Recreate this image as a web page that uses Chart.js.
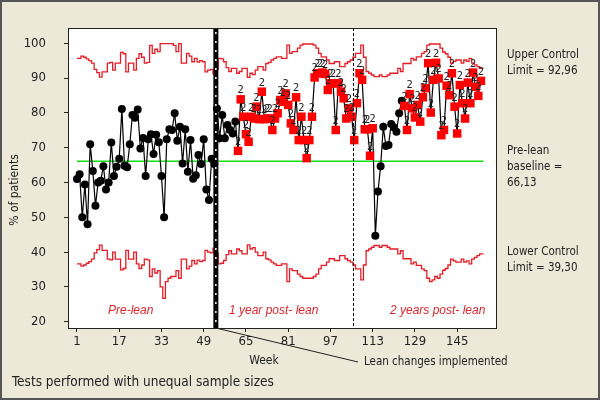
<!DOCTYPE html>
<html>
<head>
<meta charset="utf-8">
<script src="https://cdn.jsdelivr.net/npm/chart.js@4.4.0/dist/chart.umd.min.js"></script>
<style>
  html, body { margin: 0; padding: 0; background: #ece9d8; }
</style>
</head>
<body>
<canvas id="grafico-control" width="600" height="400"></canvas>
<script>
// Porcentaje de pacientes por semana (semana 1 = primer valor)
const pctPatients = [
  61, 62.4, 50, 59.4, 48, 71, 63.3, 53.3, 60, 60.5,
  64.7, 58, 60, 71.5, 61.9, 64.5, 66.8, 81.1, 64.8, 64.4,
  71, 79.4, 78.6, 81, 69.8, 72.8, 61.9, 72.4, 73.9, 68.2,
  73.7, 71.6, 61.9, 50, 72.4, 75.3, 75.1, 79.9, 72, 76,
  65.5, 75.3, 63.1, 72.2, 61.1, 62.1, 67.9, 65.3, 72.4, 58,
  55, 66.8, 65.3, 81.3, 72.7, 79.4, 72.7, 76.5, 75.1, 74.1,
  77.5, 69.1, 83.9, 78.9, 73.9, 71.7, 78.9, 78.4, 81.8, 78.2,
  86.1, 78.2, 78.4, 78.4, 75.1, 78.4, 79.9, 83.7, 83.2, 85.6,
  82.3, 77, 75.1, 84.5, 72.2, 78.9, 72.2, 67, 72.2, 78.9,
  90.2, 91.4, 91.4, 91.6, 91.2, 86.6, 88.5, 88.5, 75.1, 88.5,
  86.1, 84.2, 78.4, 81.3, 78.9, 72.2, 82.8, 91.4, 89.5, 75.3,
  75.3, 67.7, 75.6, 44.7, 57.4, 64.7, 76, 70.5, 70.8, 76.8,
  75.9, 74.6, 79.9, 83.5, 82, 75.1, 85.4, 81.3, 78.7, 82.3,
  77.5, 84.5, 87.1, 94.3, 80.1, 89.5, 94.4, 89.9, 73.6, 75.1,
  87.8, 85.1, 91.4, 81.8, 74.1, 88, 82.8, 78.4, 88.7, 82.8,
  91.6, 87.5, 84.9, 89.2
];

// Limite de control superior (paso por semana)
const upperLimit = [
  95.7, 95.7, 96.3, 96.0, 95.5, 95.0, 94.3, 92.5, 91.6, 90.3,
  91.8, 91.8, 94.3, 94.5, 92.3, 94.3, 94.3, 97.4, 97.0, 91.8,
  94.3, 94.3, 92.3, 95.7, 97.0, 96.0, 94.3, 94.5, 99.4, 97.1,
  98.3, 97.6, 99.9, 99.9, 99.9, 99.9, 99.9, 99.4, 97.6, 99.9,
  94.3, 94.3, 97.1, 96.3, 94.7, 95.7, 94.6, 95.0, 94.7, 91.8,
  92.3, 92.5, 91.2, 92.5, 95.7, 95.5, 94.7, 93.0, 91.9, 92.8,
  92.8, 91.4, 91.9, 92.8, 92.8, 90.2, 91.4, 91.0, 92.3, 93.3,
  93.3, 92.3, 94.2, 94.5, 95.2, 95.7, 96.1, 96.1, 95.7, 95.7,
  99.5, 97.1, 97.6, 97.6, 98.6, 99.5, 99.8, 99.8, 99.8, 99.8,
  99.5, 98.6, 97.1, 96.1, 96.1, 95.2, 94.2, 94.2, 94.7, 94.7,
  93.3, 93.3, 94.2, 94.7, 95.2, 96.0, 97.1, 97.1, 99.5, 96.0,
  91.9, 91.4, 90.9, 90.4, 90.4, 90.9, 90.4, 90.4, 90.9, 91.4,
  91.4, 91.4, 92.8, 91.9, 94.2, 94.2, 94.2, 95.7, 95.2, 96.1,
  96.1, 97.1, 97.6, 99.5, 99.8, 99.8, 99.8, 99.8, 98.6, 97.5,
  97.0, 96.0, 94.3, 94.8, 95.2, 95.2, 94.3, 95.2, 94.8, 95.7,
  94.3, 93.8, 93.3, 92.8, 92.8
];

// Limite de control inferior
const lowerLimit = [
  36.6, 36.6, 36.0, 36.3, 36.8, 37.3, 38.0, 39.8, 40.7, 42.0,
  40.5, 40.5, 38.0, 37.8, 40.0, 38.0, 38.0, 34.9, 35.3, 40.5,
  38.0, 38.0, 40.0, 36.6, 35.3, 36.3, 38.0, 37.8, 33.0, 35.2,
  34.0, 34.7, 30.0, 26.7, 31.5, 32.5, 33.0, 33.0, 34.7, 32.5,
  38.0, 38.0, 35.2, 36.0, 37.6, 36.6, 37.7, 37.3, 37.6, 40.5,
  40.0, 39.8, 41.1, 39.8, 36.6, 36.8, 37.6, 39.3, 40.4, 39.5,
  39.5, 40.9, 40.4, 39.5, 39.5, 42.1, 40.9, 41.3, 40.0, 39.0,
  39.0, 40.0, 38.1, 37.8, 37.1, 36.6, 36.2, 36.2, 36.6, 36.6,
  31.5, 35.2, 34.7, 34.7, 33.7, 33.0, 32.5, 32.5, 32.5, 32.5,
  33.0, 33.7, 35.2, 36.2, 36.2, 37.1, 38.1, 38.1, 37.6, 37.6,
  39.0, 39.0, 38.1, 37.6, 37.1, 36.3, 35.2, 35.2, 32.0, 36.3,
  40.4, 40.9, 41.4, 41.9, 41.9, 41.4, 41.9, 41.9, 41.4, 40.9,
  40.9, 40.9, 39.5, 40.4, 38.1, 38.1, 38.1, 36.6, 37.1, 36.2,
  36.2, 35.2, 34.7, 32.5, 31.5, 32.0, 33.0, 32.5, 33.7, 34.8,
  35.3, 36.3, 38.0, 37.5, 37.1, 37.1, 38.0, 37.1, 37.5, 36.6,
  38.0, 38.5, 39.0, 39.5, 39.5
];

// Semanas marcadas por la prueba 2 (desde, hasta)
const flaggedRanges = [[62, 113], [125, 154]];
const baseline = 66.13;
const leanWeek = 53.6;
const yearTwoWeek = 105.6;
const weekTicks = [1, 17, 33, 49, 65, 81, 97, 113, 129, 145];
const pctTicks = [20, 30, 40, 50, 60, 70, 80, 90, 100];

const uiFont = "'DejaVu Sans Condensed', 'DejaVu Sans', sans-serif";

const isFlagged = (w) => flaggedRanges.some(([a, b]) => w >= a && w <= b);
const points = pctPatients.map((v, i) => ({ x: i + 1, y: v }));
const uclPoints = upperLimit.map((v, i) => ({ x: i + 1, y: v }));
const lclPoints = lowerLimit.map((v, i) => ({ x: i + 1, y: v }));
const lastWeek = upperLimit.length;

const decor = {
  id: "decor",
  beforeDraw(chart) {
    const { ctx, chartArea: a } = chart;
    ctx.save();
    ctx.fillStyle = "#ece9d8";
    ctx.fillRect(0, 0, chart.width, chart.height);
    ctx.fillStyle = "#ffffff";
    ctx.fillRect(a.left, a.top, a.right - a.left, a.bottom - a.top);
    ctx.restore();
  },
  afterDatasetsDraw(chart) {
    const { ctx, chartArea: a, scales } = chart;
    const x = scales.x, y = scales.y;
    ctx.save();

    // etiquetas "2" sobre los puntos marcados
    ctx.font = "11px " + uiFont;
    ctx.fillStyle = "#222";
    ctx.textAlign = "center";
    ctx.textBaseline = "alphabetic";
    pctPatients.forEach((v, i) => {
      if (isFlagged(i + 1)) {
        ctx.fillText("2", x.getPixelForValue(i + 1), y.getPixelForValue(v) - 6);
      }
    });

    // linea punteada fina (2 anos)
    const dx = Math.round(x.getPixelForValue(yearTwoWeek)) + 0.5;
    ctx.strokeStyle = "#000";
    ctx.lineWidth = 1;
    ctx.setLineDash([3, 2]);
    ctx.beginPath();
    ctx.moveTo(dx, a.top);
    ctx.lineTo(dx, a.bottom);
    ctx.stroke();

    // linea gruesa del cambio lean
    const lx = x.getPixelForValue(leanWeek);
    ctx.setLineDash([]);
    ctx.lineWidth = 5;
    ctx.beginPath();
    ctx.moveTo(lx, a.top);
    ctx.lineTo(lx, a.bottom);
    ctx.stroke();
    ctx.strokeStyle = "#fff";
    ctx.lineWidth = 1.5;
    ctx.setLineDash([2, 7]);
    ctx.beginPath();
    ctx.moveTo(lx, a.top + 4);
    ctx.lineTo(lx, a.bottom);
    ctx.stroke();
    ctx.setLineDash([]);

    // marco del grafico
    ctx.strokeStyle = "#222";
    ctx.lineWidth = 1;
    ctx.strokeRect(a.left + 0.5, a.top + 0.5, a.right - a.left, a.bottom - a.top);

    // linea hacia la etiqueta
    ctx.beginPath();
    ctx.moveTo(lx, a.bottom);
    ctx.lineTo(358, 362);
    ctx.stroke();

    // textos de fases
    ctx.font = "italic 12px 'Liberation Sans', Arial, sans-serif";
    ctx.fillStyle = "#d9262e";
    ctx.textAlign = "left";
    ctx.textBaseline = "middle";
    ctx.fillText("Pre-lean", 108, 311);
    ctx.fillText("1 year post- lean", 229, 311);
    ctx.fillText("2 years post- lean", 390, 311);

    // textos laterales
    ctx.font = "11.5px " + uiFont;
    ctx.fillStyle = "#222";
    const side = [
      ["Upper Control", 55], ["Limit = 92,96", 71],
      ["Pre-lean", 151], ["baseline =", 167], ["66,13", 183],
      ["Lower Control", 252], ["Limit = 39,30", 268],
    ];
    side.forEach(([t, ty]) => ctx.fillText(t, 507, ty));

    ctx.fillText("Lean changes implemented", 364, 362);
    ctx.font = "13.5px " + uiFont;
    ctx.fillText("Tests performed with unequal sample sizes", 12, 382);
    ctx.font = "12px " + uiFont;
    ctx.textAlign = "center";
    ctx.fillText("Week", 264, 361);

    ctx.translate(15, 190);
    ctx.rotate(-Math.PI / 2);
    ctx.fillText("% of patients", 0, 0);
    ctx.restore();

    // borde exterior
    ctx.save();
    ctx.strokeStyle = "#555";
    ctx.lineWidth = 2;
    ctx.strokeRect(1, 1, chart.width - 2, chart.height - 2);
    ctx.restore();
  },
};

new Chart(document.getElementById("grafico-control"), {
  type: "scatter",
  data: {
    datasets: [
      {
        label: "Baseline",
        data: [{ x: 1, y: baseline }, { x: lastWeek, y: baseline }],
        showLine: true,
        borderColor: "#11e011",
        borderWidth: 1.5,
        pointRadius: 0,
        order: 4,
      },
      {
        label: "UCL",
        data: uclPoints,
        showLine: true,
        stepped: "middle",
        borderColor: "#e41c26",
        borderWidth: 1.3,
        pointRadius: 0,
        order: 3,
      },
      {
        label: "LCL",
        data: lclPoints,
        showLine: true,
        stepped: "middle",
        borderColor: "#e41c26",
        borderWidth: 1.3,
        pointRadius: 0,
        order: 3,
      },
      {
        label: "% of patients",
        data: points,
        showLine: true,
        borderColor: "#000",
        borderWidth: 1.2,
        pointStyle: (c) => (isFlagged(c.raw.x) ? "rect" : "circle"),
        pointRadius: (c) => (isFlagged(c.raw.x) ? 6 : 4),
        pointBackgroundColor: (c) => (isFlagged(c.raw.x) ? "#ff0000" : "#000"),
        pointBorderColor: (c) => (isFlagged(c.raw.x) ? "#ff0000" : "#000"),
        pointBorderWidth: 0,
        order: 1,
      },
    ],
  },
  options: {
    responsive: false,
    animation: false,
    layout: { padding: { left: 0, top: 28, right: 104, bottom: 42 } },
    scales: {
      x: {
        type: "linear",
        min: -2.4,
        max: 159.7,
        afterFit: (s) => { s.height = 30; },
        afterBuildTicks: (s) => { s.ticks = weekTicks.map((v) => ({ value: v })); },
        grid: { drawOnChartArea: false, drawTicks: true, tickLength: 4, color: "#222" },
        border: { display: false },
        ticks: { color: "#222", font: { family: uiFont, size: 13 }, padding: 2, maxRotation: 0, autoSkip: false },
      },
      y: {
        min: 18.2,
        max: 104.4,
        afterFit: (s) => { s.width = 68; },
        afterBuildTicks: (s) => { s.ticks = pctTicks.map((v) => ({ value: v })); },
        grid: { drawOnChartArea: false, drawTicks: true, tickLength: 4, color: "#222" },
        border: { display: false },
        ticks: { color: "#222", font: { family: uiFont, size: 13 }, padding: 18 },
      },
    },
    plugins: {
      legend: { display: false },
      tooltip: { enabled: false },
    },
  },
  plugins: [decor],
});
</script>
</body>
</html>
